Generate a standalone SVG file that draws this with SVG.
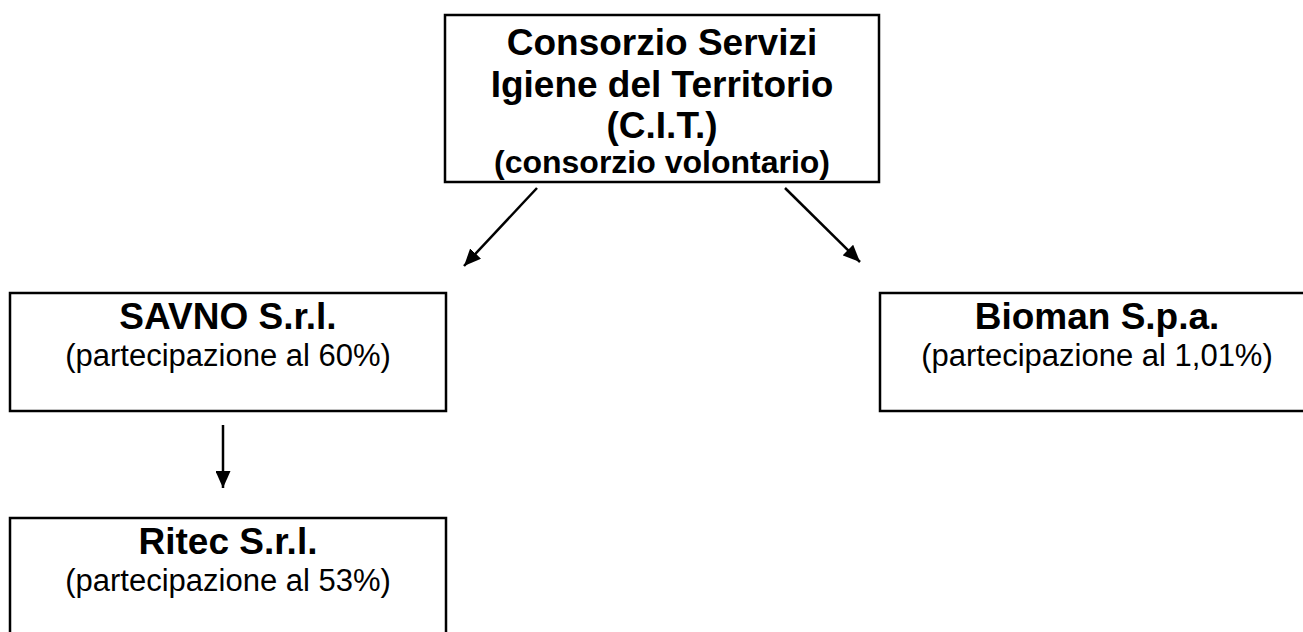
<svg xmlns="http://www.w3.org/2000/svg" width="1303" height="632" viewBox="0 0 1303 632">
<defs>
<style>
.box{fill:#fff;stroke:#000;stroke-width:2.5}
.t{font-family:"Liberation Sans",Arial,sans-serif;fill:#000;text-anchor:middle}
.b{font-weight:bold}
.c{stroke:#000;stroke-width:2.5;fill:none;marker-end:url(#ah)}
</style>
<marker id="ah" viewBox="0 0 17 15" refX="17" refY="7.5" markerWidth="17" markerHeight="15" markerUnits="userSpaceOnUse" orient="auto">
<path d="M0,0 L17,7.5 L0,15 z" fill="#000"/>
</marker>
</defs>
<rect width="1303" height="632" fill="#fff"/>
<g id="cit">
<rect class="box" x="445" y="15" width="434" height="167"/>
<text class="t b" x="662" y="55" font-size="37">Consorzio Servizi</text>
<text class="t b" x="662" y="97" font-size="37">Igiene del Territorio</text>
<text class="t b" x="662" y="138" font-size="37">(C.I.T.)</text>
<text class="t b" x="662" y="173" font-size="32">(consorzio volontario)</text>
</g>
<g id="savno">
<rect class="box" x="10" y="293" width="436" height="118"/>
<text class="t b" x="228" y="329" font-size="37">SAVNO S.r.l.</text>
<text class="t" x="228" y="366" font-size="31">(partecipazione al 60%)</text>
</g>
<g id="bioman">
<rect class="box" x="880" y="293" width="434" height="118"/>
<text class="t b" x="1097" y="329" font-size="37">Bioman S.p.a.</text>
<text class="t" x="1097" y="366" font-size="31">(partecipazione al 1,01%)</text>
</g>
<g id="ritec">
<rect class="box" x="10" y="518" width="436" height="130"/>
<text class="t b" x="228" y="554" font-size="37">Ritec S.r.l.</text>
<text class="t" x="228" y="591" font-size="31">(partecipazione al 53%)</text>
</g>
<g id="connectors">
<line class="c" x1="537" y1="188" x2="464" y2="266"/>
<line class="c" x1="785" y1="188" x2="860" y2="262"/>
<line class="c" x1="223" y1="425" x2="223" y2="488"/>
</g>
</svg>
